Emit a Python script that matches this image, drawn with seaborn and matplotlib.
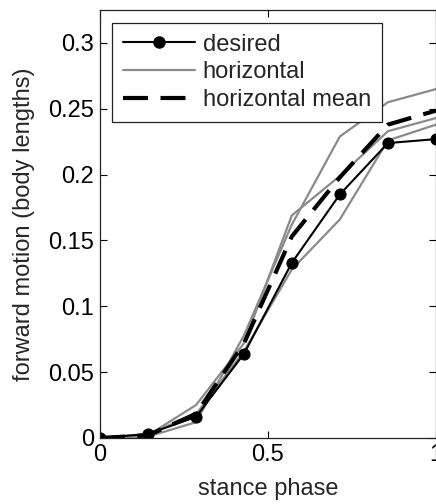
import matplotlib
matplotlib.use("Agg")
import matplotlib.pyplot as plt
from matplotlib.lines import Line2D
import seaborn as sns
import numpy as np
import pandas as pd

# stance phase samples
phase = [0.0, 0.143, 0.286, 0.429, 0.571, 0.714, 0.857, 1.0]

# desired forward motion (body lengths)
desired = [0.0, 0.003, 0.016, 0.064, 0.133, 0.185, 0.224, 0.227]

# horizontal trials
horiz_1 = [0.0, 0.002, 0.025, 0.072, 0.169, 0.199, 0.233, 0.243]
horiz_2 = [0.0, 0.001, 0.012, 0.078, 0.162, 0.229, 0.255, 0.265]
horiz_3 = [0.0, 0.003, 0.018, 0.066, 0.128, 0.166, 0.226, 0.238]

sns.set_style("ticks")
plt.rcParams['font.family'] = ['Liberation Sans', 'DejaVu Sans']
fs = 17

trials = pd.DataFrame({
    'phase': phase * 3,
    'motion': horiz_1 + horiz_2 + horiz_3,
    'trial': [1] * 8 + [2] * 8 + [3] * 8,
})
horiz_mean = np.mean([horiz_1, horiz_2, horiz_3], axis=0)

fig = plt.figure(figsize=(4.36, 5.04), dpi=100)
ax = fig.add_axes([0.229, 0.131, 0.771, 0.849])

# gray trial lines
sns.lineplot(data=trials, x='phase', y='motion', units='trial', estimator=None,
             color='#8a8a8a', linewidth=1.6, ax=ax, legend=False)
# mean of horizontal trials
sns.lineplot(x=phase, y=horiz_mean, color='black', linewidth=3.0, ax=ax, legend=False)
ax.lines[-1].set_dashes([6, 3])
# desired
sns.lineplot(x=phase, y=desired, color='black', linewidth=1.5, marker='o',
             markersize=8, markeredgecolor='black', ax=ax, legend=False)

ax.set_xlim(0, 1)
ax.set_ylim(0, 0.325)
ax.set_xticks([0, 0.5, 1])
ax.set_xticklabels(['0', '0.5', '1'])
ax.set_yticks([0, 0.05, 0.1, 0.15, 0.2, 0.25, 0.3])
ax.set_yticklabels(['0', '0.05', '0.1', '0.15', '0.2', '0.25', '0.3'])
ax.tick_params(direction='in', length=5, width=0.8, top=True, right=True,
               labelsize=fs, pad=4, colors='black')
for s in ax.spines.values():
    s.set_visible(True)
    s.set_color('#222222')
    s.set_linewidth(0.9)

ax.set_xlabel('stance phase', fontsize=fs, labelpad=9)
ax.set_ylabel('forward motion (body lengths)', fontsize=fs, labelpad=10)

handles = [
    Line2D([], [], color='black', linewidth=1.5, marker='o', markersize=8),
    Line2D([], [], color='#8a8a8a', linewidth=1.6),
    Line2D([], [], color='black', linewidth=3.0, dashes=[6, 3]),
]
leg = ax.legend(handles, ['desired', 'horizontal', 'horizontal mean'],
                loc='upper left', bbox_to_anchor=(0.036, 0.970), fontsize=fs,
                handlelength=3.05, handletextpad=0.35, labelspacing=0.25,
                borderpad=0.45, fancybox=False, framealpha=1,
                edgecolor='#222222', borderaxespad=0)
leg.get_frame().set_linewidth(0.9)

fig.savefig('out.png', dpi=100)
